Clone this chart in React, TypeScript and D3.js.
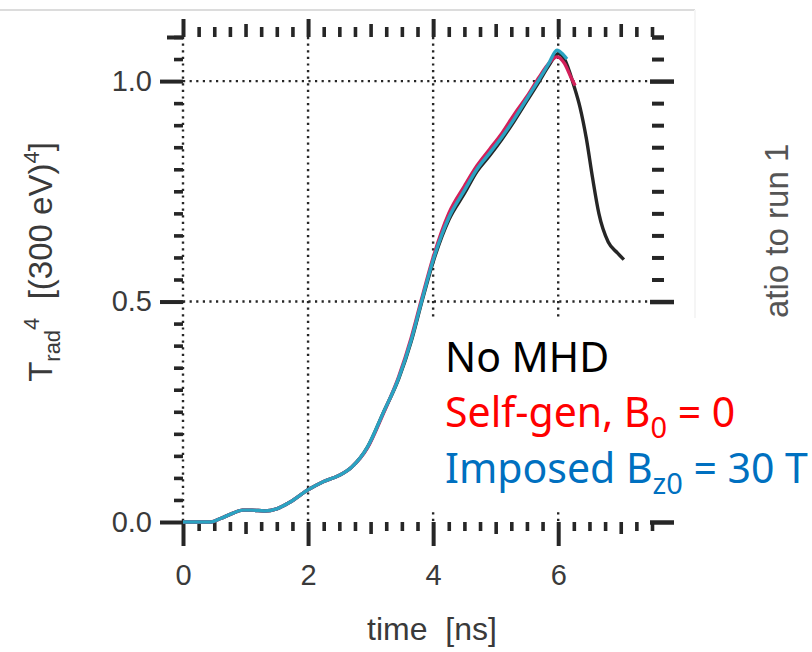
import React, { useEffect, useRef } from "react";
import * as d3 from "d3";

// time [ns] and Trad^4 values
const tNoMHD = [0, 0.45, 0.6, 0.8, 0.95, 1.1, 1.3, 1.5, 1.7, 2.0, 2.25, 2.5, 2.7, 2.95, 3.2, 3.45, 3.65, 3.82, 4.0, 4.25, 4.5, 4.7, 4.9, 5.1, 5.3, 5.5, 5.7, 5.85, 6.0, 6.1, 6.25, 6.35, 6.45, 6.55, 6.65, 6.8, 6.95, 7.05];
const noMHD = [0, 0, 0.008, 0.02, 0.027, 0.027, 0.025, 0.03, 0.044, 0.073, 0.092, 0.106, 0.125, 0.17, 0.247, 0.325, 0.41, 0.5, 0.59, 0.685, 0.745, 0.795, 0.83, 0.868, 0.91, 0.955, 1.0, 1.035, 1.062, 1.05, 0.99, 0.94, 0.87, 0.78, 0.7, 0.635, 0.61, 0.595];

const tSelfGen = [0, 0.45, 0.6, 0.8, 0.95, 1.1, 1.3, 1.5, 1.7, 2.0, 2.25, 2.5, 2.7, 2.95, 3.2, 3.45, 3.65, 3.82, 4.0, 4.25, 4.5, 4.7, 4.9, 5.1, 5.3, 5.5, 5.7, 5.85, 5.98, 6.1, 6.2, 6.27];
const selfGen = [0, 0, 0.008, 0.02, 0.027, 0.027, 0.025, 0.03, 0.044, 0.073, 0.092, 0.106, 0.125, 0.168, 0.245, 0.33, 0.418, 0.508, 0.6, 0.7, 0.762, 0.808, 0.845, 0.882, 0.925, 0.965, 1.01, 1.04, 1.055, 1.04, 1.01, 0.99];

const tImposed = [0, 0.45, 0.6, 0.8, 0.95, 1.1, 1.3, 1.5, 1.7, 2.0, 2.25, 2.5, 2.7, 2.95, 3.2, 3.45, 3.65, 3.82, 4.0, 4.25, 4.5, 4.7, 4.9, 5.1, 5.3, 5.5, 5.7, 5.85, 5.98, 6.08, 6.14];
const imposed = [0, 0, 0.008, 0.02, 0.027, 0.027, 0.025, 0.03, 0.044, 0.073, 0.092, 0.106, 0.125, 0.17, 0.247, 0.327, 0.413, 0.503, 0.594, 0.69, 0.752, 0.8, 0.836, 0.873, 0.915, 0.96, 1.005, 1.04, 1.07, 1.06, 1.05];

const timeTicks = [0, 2, 4, 6];
const timeMidTicks = [1, 3, 5, 7];
const yTicks = [0, 0.5, 1.0];

const App = () => {
    const ref = useRef<SVGSVGElement>(null);

    useEffect(() => {
        document.body.style.margin = "0";
        const svg = d3.select(ref.current);
        svg.selectAll("*").remove();

        const x = d3.scaleLinear().domain([0, 7.5]).range([183, 652]);
        const y = d3.scaleLinear().domain([0, 1.1]).range([522, 37]);
        const ink = "#262626";
        const txt = "#3a3a3a";

        // screenshot edge
        svg.append("line").attr("x1", 0).attr("x2", 695).attr("y1", 10).attr("y2", 10)
            .attr("stroke", "#dcdcdc").attr("stroke-width", 2);
        svg.append("line").attr("x1", 695).attr("x2", 695).attr("y1", 10).attr("y2", 318)
            .attr("stroke", "#f5f5f5").attr("stroke-width", 2);

        // dotted grid
        const grid = svg.append("g").attr("stroke", ink).attr("stroke-width", 2.4)
            .attr("stroke-dasharray", "2.2 4.4");
        grid.selectAll("line.v").data(timeTicks).enter().append("line")
            .attr("x1", d => x(d)).attr("x2", d => x(d))
            .attr("y1", y(1.1)).attr("y2", y(0));
        grid.selectAll("line.h").data([0.5, 1.0]).enter().append("line")
            .attr("x1", x(0)).attr("x2", x(7.5))
            .attr("y1", d => y(d)).attr("y2", d => y(d));

        const minorT = d3.range(0, 31).map(i => i * 0.25).filter(d => d % 1 !== 0);
        const minorY = d3.range(0, 23).map(i => Math.round(i * 5) / 100).filter(d => !yTicks.includes(d));

        const styleAxis = (g: any, w: number) => {
            g.select(".domain").remove();
            g.selectAll(".tick line").attr("stroke", ink).attr("stroke-width", w);
            g.selectAll(".tick text").attr("fill", txt)
                .style("font-family", "'Liberation Sans', Arial, sans-serif").style("font-size", "29px");
        };
        const blank = () => "";

        // left
        svg.append("g").attr("transform", `translate(${x(0)},0)`)
            .call(d3.axisLeft(y).tickValues(minorY).tickSize(9).tickFormat(blank)).call(g => styleAxis(g, 3.6));
        svg.append("g").attr("transform", `translate(${x(0)},0)`)
            .call(d3.axisLeft(y).tickValues(yTicks).tickSize(23).tickPadding(8).tickFormat(d3.format(".1f")))
            .call(g => styleAxis(g, 4));
        svg.append("g").attr("transform", `translate(${x(0)},0)`)
            .call(d3.axisLeft(y).tickValues([1.1]).tickSize(16).tickFormat(blank)).call(g => styleAxis(g, 4));

        // top
        svg.append("g").attr("transform", `translate(0,${y(1.1)})`)
            .call(d3.axisTop(x).tickValues(minorT).tickSize(10).tickFormat(blank)).call(g => styleAxis(g, 3.6));
        svg.append("g").attr("transform", `translate(0,${y(1.1)})`)
            .call(d3.axisTop(x).tickValues(timeMidTicks).tickSize(13).tickFormat(blank)).call(g => styleAxis(g, 3.6));
        svg.append("g").attr("transform", `translate(0,${y(1.1)})`)
            .call(d3.axisTop(x).tickValues(timeTicks).tickSize(18).tickFormat(blank)).call(g => styleAxis(g, 4));

        // bottom
        svg.append("g").attr("transform", `translate(0,${y(0)})`)
            .call(d3.axisBottom(x).tickValues(minorT).tickSize(9).tickFormat(blank)).call(g => styleAxis(g, 3.6));
        svg.append("g").attr("transform", `translate(0,${y(0)})`)
            .call(d3.axisBottom(x).tickValues(timeMidTicks).tickSize(12).tickFormat(blank)).call(g => styleAxis(g, 3.6));
        svg.append("g").attr("transform", `translate(0,${y(0)})`)
            .call(d3.axisBottom(x).tickValues(timeTicks).tickSize(24).tickPadding(18).tickFormat(d3.format("d")))
            .call(g => styleAxis(g, 4));

        // right
        svg.append("g").attr("transform", `translate(${x(7.5)},0)`)
            .call(d3.axisRight(y).tickValues(minorY.concat([1.1])).tickSize(12).tickFormat(blank)).call(g => styleAxis(g, 4));
        svg.append("g").attr("transform", `translate(${x(7.5) - 2},0)`)
            .call(d3.axisRight(y).tickValues(yTicks).tickSize(24).tickFormat(blank)).call(g => styleAxis(g, 4.5));

        // curves
        const line = d3.line<[number, number]>().x(d => x(d[0])).y(d => y(d[1])).curve(d3.curveMonotoneX);
        const series = [
            { t: tNoMHD, v: noMHD, color: "#262626" },
            { t: tSelfGen, v: selfGen, color: "#d3205a" },
            { t: tImposed, v: imposed, color: "#2aa3c2" },
        ];
        series.forEach(s => {
            svg.append("path")
                .datum(s.t.map((t, i) => [t, s.v[i]] as [number, number]))
                .attr("d", line)
                .attr("fill", "none")
                .attr("stroke", s.color)
                .attr("stroke-width", 3.4)
                .attr("stroke-linejoin", "round");
        });

        // axis titles
        const sans = "'Liberation Sans', Arial, sans-serif";
        svg.append("text").attr("x", 432).attr("y", 640).attr("text-anchor", "middle")
            .style("font-family", sans).style("font-size", "32px").style("white-space", "pre")
            .attr("fill", txt).text("time  [ns]");

        const yl = svg.append("text").attr("transform", "translate(52,262) rotate(-90)")
            .attr("text-anchor", "middle").style("font-family", sans).style("font-size", "33px")
            .style("white-space", "pre").attr("fill", txt);
        yl.append("tspan").text("T");
        yl.append("tspan").attr("dy", 8).style("font-size", "22px").text("rad");
        yl.append("tspan").attr("dy", -21).style("font-size", "22px").text("4");
        yl.append("tspan").attr("dy", 13).text("  [(300 eV)");
        yl.append("tspan").attr("dy", -13).style("font-size", "22px").text("4");
        yl.append("tspan").attr("dy", 13).text("]");

        // neighbouring panel label
        svg.append("text").attr("transform", "translate(788,318) rotate(-90)")
            .style("font-family", sans).style("font-size", "33px").attr("fill", "#555")
            .text("atio to run 1");

        // legend
        svg.append("rect").attr("x", 428).attr("y", 318).attr("width", 384).attr("height", 190).attr("fill", "#fff");
        const lf = "'Noto Sans', 'Open Sans', sans-serif";
        const leg = svg.append("g").style("font-family", lf).style("font-size", "41px").style("white-space", "pre");
        leg.append("text").attr("x", 445).attr("y", 372).attr("fill", "#000").text("No MHD");
        const l2 = leg.append("text").attr("x", 445).attr("y", 427).attr("fill", "#ff0000");
        l2.append("tspan").text("Self-gen, B");
        l2.append("tspan").attr("dy", 11).style("font-size", "29px").text("0");
        l2.append("tspan").attr("dy", -11).text(" = 0");
        const l3 = leg.append("text").attr("x", 445).attr("y", 483).attr("fill", "#0070c0");
        l3.append("tspan").text("Imposed B");
        l3.append("tspan").attr("dy", 11).style("font-size", "29px").text("z0");
        l3.append("tspan").attr("dy", -11).text(" = 30 T");
    }, []);

    return <svg ref={ref} width={812} height={652} style={{ display: "block", background: "#fff" }} />;
};

export default App;
